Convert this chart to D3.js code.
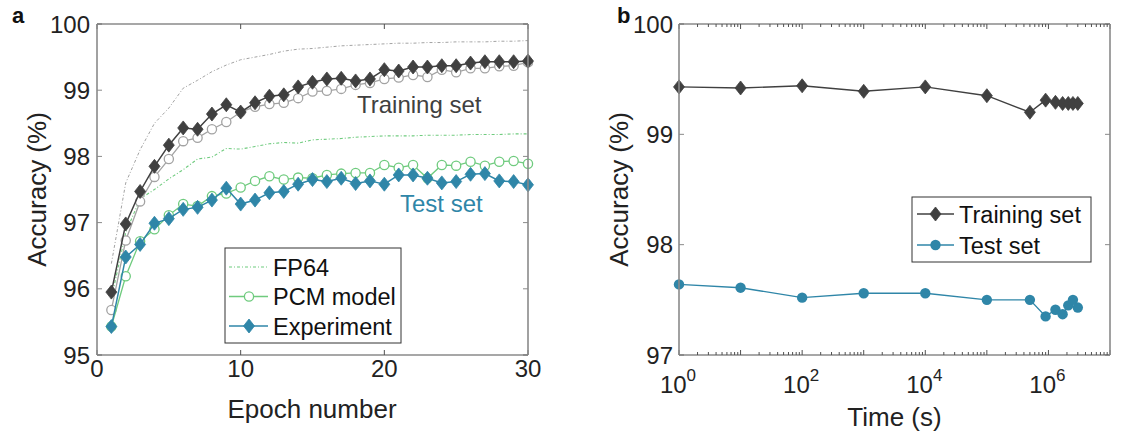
<!DOCTYPE html>
<html><head><meta charset="utf-8">
<script src="https://cdn.jsdelivr.net/npm/d3@7"></script>
<style>body{margin:0;background:#fff}svg{display:block}text{font-family:"Liberation Sans",Arial,sans-serif}</style>
</head><body>
<svg id="c" width="1122" height="435"></svg>
<script>
// ---------- Data ----------
const epochs = d3.range(1, 31);
const trainFP64 = [96.38,97.6,98.1,98.5,98.73,99.03,99.15,99.28,99.38,99.46,99.5,99.54,99.59,99.62,99.63,99.65,99.67,99.68,99.69,99.7,99.71,99.71,99.72,99.72,99.73,99.73,99.73,99.74,99.74,99.75];
const trainPCM = [95.68,96.73,97.32,97.69,97.96,98.23,98.28,98.41,98.52,98.67,98.75,98.79,98.81,98.88,98.98,98.99,99.02,99.08,99.11,99.17,99.19,99.23,99.2,99.31,99.27,99.33,99.33,99.36,99.37,99.42];
const trainExp = [95.95,96.98,97.47,97.85,98.17,98.43,98.41,98.64,98.78,98.67,98.81,98.91,98.93,99.05,99.12,99.17,99.18,99.14,99.17,99.31,99.29,99.35,99.35,99.37,99.37,99.41,99.43,99.43,99.43,99.44];
const testFP64 = [95.85,96.85,97.36,97.5,97.66,97.8,97.96,97.99,98.12,98.11,98.15,98.19,98.21,98.2,98.25,98.26,98.27,98.29,98.3,98.31,98.31,98.31,98.32,98.32,98.32,98.33,98.33,98.33,98.34,98.34];
const testPCM = [95.43,96.19,96.72,96.9,97.11,97.28,97.25,97.4,97.44,97.53,97.63,97.7,97.65,97.68,97.67,97.72,97.74,97.75,97.75,97.87,97.83,97.87,97.67,97.87,97.86,97.92,97.86,97.92,97.93,97.89];
const testExp = [95.43,96.48,96.67,96.99,97.06,97.2,97.23,97.34,97.52,97.28,97.34,97.45,97.47,97.58,97.65,97.62,97.67,97.59,97.63,97.58,97.72,97.72,97.67,97.6,97.62,97.73,97.74,97.63,97.62,97.57];

const times = [1,10,100,1e3,1e4,1e5,5e5,9e5,1.3e6,1.7e6,2.1e6,2.5e6,3e6];
const driftTrain = [99.43,99.42,99.44,99.39,99.43,99.35,99.2,99.31,99.29,99.28,99.28,99.28,99.28];
const driftTest = [97.64,97.61,97.52,97.56,97.56,97.5,97.5,97.35,97.41,97.37,97.45,97.5,97.43];

const xTicksA = [0,10,20,30];
const yTicksA = [95,96,97,98,99,100];
const xTicksB = [1,100,1e4,1e6];
const yTicksB = [97,98,99,100];

// ---------- Style ----------
const C = {dark:"#404040", grey:"#a3a3a3", green:"#6fcb7e", blue:"#2f86a8", axisLR:"#8a8a8a", axisTB:"#505050"};
const svg = d3.select("#c");
const FT = 24, FL = 26;

function diamond(g, x, y, color, hw=5.5, hh=7){
  g.append("path").attr("d",`M${x},${y-hh}L${x+hw},${y}L${x},${y+hh}L${x-hw},${y}Z`).attr("fill",color).attr("stroke",color).attr("stroke-width",0.8);
}

function frame(g, left, right, top, bottom){
  g.append("line").attr("x1",left).attr("x2",right).attr("y1",top).attr("y2",top).attr("stroke",C.axisTB).attr("stroke-width",1.2);
  g.append("line").attr("x1",left).attr("x2",right).attr("y1",bottom).attr("y2",bottom).attr("stroke",C.axisTB).attr("stroke-width",1.2);
  g.append("line").attr("x1",left).attr("x2",left).attr("y1",top).attr("y2",bottom).attr("stroke",C.axisLR).attr("stroke-width",1.6);
  g.append("line").attr("x1",right).attr("x2",right).attr("y1",top).attr("y2",bottom).attr("stroke",C.axisLR).attr("stroke-width",1.6);
}

// ---------- Panel a ----------
{
  const L=97,R=528,T=24,B=355;
  const x = d3.scaleLinear().domain([0,30]).range([L,R]);
  const y = d3.scaleLinear().domain([95,100]).range([B,T]);
  const g = svg.append("g");
  const line = d3.line().x((d,i)=>x(epochs[i])).y(d=>y(d));

  yTicksA.forEach(v=>{
    g.append("line").attr("x1",L).attr("x2",L+5).attr("y1",y(v)).attr("y2",y(v)).attr("stroke",C.axisLR);
    g.append("line").attr("x1",R).attr("x2",R-5).attr("y1",y(v)).attr("y2",y(v)).attr("stroke",C.axisLR);
    g.append("text").attr("x",L-7).attr("y",y(v)+8.5).attr("text-anchor","end").attr("font-size",FT).attr("fill","#222").text(v);
  });
  xTicksA.forEach(v=>{
    g.append("line").attr("x1",x(v)).attr("x2",x(v)).attr("y1",B).attr("y2",B-5).attr("stroke",C.axisTB);
    g.append("line").attr("x1",x(v)).attr("x2",x(v)).attr("y1",T).attr("y2",T+5).attr("stroke",C.axisTB);
    g.append("text").attr("x",x(v)).attr("y",B+22).attr("text-anchor","middle").attr("font-size",FT).attr("fill","#222").text(v);
  });

  g.append("path").attr("d",line(trainFP64)).attr("fill","none").attr("stroke",C.grey).attr("stroke-width",1).attr("stroke-dasharray","3,2,1,2");
  g.append("path").attr("d",line(testFP64)).attr("fill","none").attr("stroke",C.green).attr("stroke-width",1.1).attr("stroke-dasharray","3,2,1,2");
  g.append("path").attr("d",line(trainPCM)).attr("fill","none").attr("stroke",C.grey).attr("stroke-width",1.3);
  trainPCM.forEach((d,i)=>g.append("circle").attr("cx",x(epochs[i])).attr("cy",y(d)).attr("r",4.6).attr("fill","#fff").attr("stroke",C.grey).attr("stroke-width",1.3));
  g.append("path").attr("d",line(testPCM)).attr("fill","none").attr("stroke",C.green).attr("stroke-width",1.3);
  testPCM.forEach((d,i)=>g.append("circle").attr("cx",x(epochs[i])).attr("cy",y(d)).attr("r",4.6).attr("fill","#fff").attr("stroke",C.green).attr("stroke-width",1.3));
  g.append("path").attr("d",line(trainExp)).attr("fill","none").attr("stroke",C.dark).attr("stroke-width",1.5);
  trainExp.forEach((d,i)=>diamond(g,x(epochs[i]),y(d),C.dark));
  g.append("path").attr("d",line(testExp)).attr("fill","none").attr("stroke",C.blue).attr("stroke-width",1.5);
  testExp.forEach((d,i)=>diamond(g,x(epochs[i]),y(d),C.blue));

  frame(g,L,R,T,B);

  g.append("text").attr("x",357).attr("y",113).attr("font-size",FT).attr("fill",C.dark).text("Training set");
  g.append("text").attr("x",400).attr("y",212).attr("font-size",FT).attr("fill",C.blue).text("Test set");

  const lg = g.append("g");
  lg.append("rect").attr("x",225).attr("y",248).attr("width",176).attr("height",95).attr("fill","#fff").attr("stroke","#333").attr("stroke-width",1);
  const rows = [{t:"FP64",y:267},{t:"PCM model",y:296.5},{t:"Experiment",y:326}];
  lg.append("line").attr("x1",229).attr("x2",268).attr("y1",rows[0].y).attr("y2",rows[0].y).attr("stroke",C.green).attr("stroke-width",1.1).attr("stroke-dasharray","3,2,1,2");
  lg.append("line").attr("x1",229).attr("x2",268).attr("y1",rows[1].y).attr("y2",rows[1].y).attr("stroke",C.green).attr("stroke-width",1.3);
  lg.append("circle").attr("cx",249).attr("cy",rows[1].y).attr("r",4.6).attr("fill","#fff").attr("stroke",C.green).attr("stroke-width",1.3);
  lg.append("line").attr("x1",229).attr("x2",268).attr("y1",rows[2].y).attr("y2",rows[2].y).attr("stroke",C.blue).attr("stroke-width",1.5);
  diamond(lg,249,rows[2].y,C.blue);
  rows.forEach(r=>lg.append("text").attr("x",273).attr("y",r.y+8.5).attr("font-size",23.5).attr("fill","#111").text(r.t));

  g.append("text").attr("x",312).attr("y",418).attr("text-anchor","middle").attr("font-size",FL).attr("fill","#222").text("Epoch number");
  g.append("text").attr("transform",`translate(46,${(T+B)/2}) rotate(-90)`).attr("text-anchor","middle").attr("font-size",FL).attr("fill","#222").text("Accuracy (%)");
  svg.append("text").attr("x",12).attr("y",23).attr("font-size",22).attr("font-weight","bold").attr("fill","#111").text("a");
}

// ---------- Panel b ----------
{
  const L=679,R=1110,T=24,B=355;
  const x = d3.scaleLog().domain([1,1e7]).range([L,R]);
  const y = d3.scaleLinear().domain([97,100]).range([B,T]);
  const g = svg.append("g");

  yTicksB.forEach(v=>{
    g.append("line").attr("x1",L).attr("x2",L+5).attr("y1",y(v)).attr("y2",y(v)).attr("stroke",C.axisLR);
    g.append("line").attr("x1",R).attr("x2",R-5).attr("y1",y(v)).attr("y2",y(v)).attr("stroke",C.axisLR);
    g.append("text").attr("x",L-6).attr("y",y(v)+8.5).attr("text-anchor","end").attr("font-size",FT).attr("fill","#222").text(v);
  });
  x.ticks().forEach(v=>{
    const major = Math.abs(Math.log10(v)-Math.round(Math.log10(v)))<1e-9;
    const len = major?5:3;
    g.append("line").attr("x1",x(v)).attr("x2",x(v)).attr("y1",B).attr("y2",B-len).attr("stroke",C.axisTB);
    g.append("line").attr("x1",x(v)).attr("x2",x(v)).attr("y1",T).attr("y2",T+len).attr("stroke",C.axisTB);
  });
  xTicksB.forEach(v=>{
    const t = g.append("text").attr("x",x(v)-1).attr("y",B+38).attr("text-anchor","middle").attr("font-size",FT).attr("fill","#222");
    t.append("tspan").text("10");
    t.append("tspan").attr("font-size",17).attr("dy",-12).text(Math.round(Math.log10(v)));
  });

  const lt = d3.line().x((d,i)=>x(times[i])).y(d=>y(d));
  g.append("path").attr("d",lt(driftTrain)).attr("fill","none").attr("stroke",C.dark).attr("stroke-width",1.4);
  driftTrain.forEach((d,i)=>diamond(g,x(times[i]),y(d),C.dark));
  g.append("path").attr("d",lt(driftTest)).attr("fill","none").attr("stroke",C.blue).attr("stroke-width",1.4);
  driftTest.forEach((d,i)=>g.append("circle").attr("cx",x(times[i])).attr("cy",y(d)).attr("r",5.2).attr("fill",C.blue));

  frame(g,L,R,T,B);

  const lg = g.append("g");
  lg.append("rect").attr("x",912).attr("y",197).attr("width",179).attr("height",65).attr("fill","#fff").attr("stroke","#333").attr("stroke-width",1);
  lg.append("line").attr("x1",917).attr("x2",954).attr("y1",214).attr("y2",214).attr("stroke",C.dark).attr("stroke-width",1.4);
  diamond(lg,935.5,214,C.dark);
  lg.append("line").attr("x1",917).attr("x2",954).attr("y1",245).attr("y2",245).attr("stroke",C.blue).attr("stroke-width",1.4);
  lg.append("circle").attr("cx",935.5).attr("cy",245).attr("r",5.2).attr("fill",C.blue);
  lg.append("text").attr("x",959).attr("y",222.5).attr("font-size",23.5).attr("fill","#111").text("Training set");
  lg.append("text").attr("x",959).attr("y",253.5).attr("font-size",23.5).attr("fill","#111").text("Test set");

  g.append("text").attr("x",(L+R)/2).attr("y",426).attr("text-anchor","middle").attr("font-size",FL).attr("fill","#222").text("Time (s)");
  g.append("text").attr("transform",`translate(628,${(T+B)/2}) rotate(-90)`).attr("text-anchor","middle").attr("font-size",FL).attr("fill","#222").text("Accuracy (%)");
  svg.append("text").attr("x",617).attr("y",23).attr("font-size",22).attr("font-weight","bold").attr("fill","#111").text("b");
}
</script>
</body></html>
